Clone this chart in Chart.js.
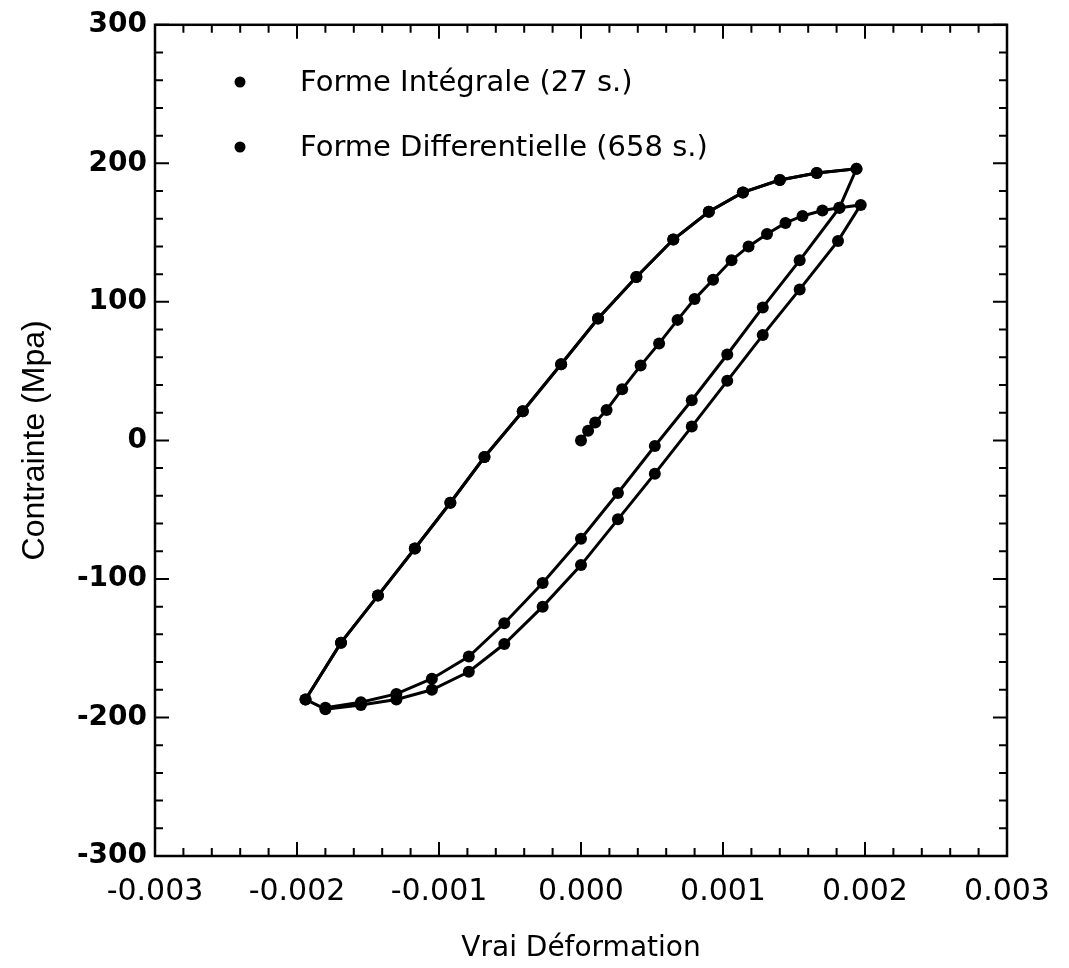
<!DOCTYPE html>
<html>
<head>
<meta charset="utf-8">
<script src="https://cdn.jsdelivr.net/npm/chart.js@4.4.1/dist/chart.umd.min.js"></script>
<style>
  body { margin: 0; background: #fff; }
</style>
</head>
<body>
<canvas id="loopChart" width="1069" height="968"></canvas>
<script>
const X_TICKS = [-0.003, -0.002, -0.001, 0, 0.001, 0.002, 0.003];
const X_TICK_LABELS = ["-0.003", "-0.002", "-0.001", "0.000", "0.001", "0.002", "0.003"];
const Y_TICKS = [-300, -200, -100, 0, 100, 200, 300];
const Y_TICK_LABELS = ["-300", "-200", "-100", "0", "100", "200", "300"];

const SERIES_LABELS = ["Forme Intégrale (27 s.)", "Forme Differentielle (658 s.)"];

// loading, first unloading (outer), then the left branch back to the top
const integraleStrain = [
  0.00000, 0.00005, 0.00010, 0.00018, 0.00029, 0.00042, 0.00055, 0.00068, 0.00080,
  0.00093, 0.00106, 0.00118, 0.00131, 0.00144, 0.00156, 0.00170, 0.00182, 0.00197,
  0.00181, 0.00154, 0.00128, 0.00103, 0.00078, 0.00052, 0.00026, 0.00000, -0.00027,
  -0.00054, -0.00079, -0.00105, -0.00130, -0.00155, -0.00180, -0.00194,
  -0.00169, -0.00143, -0.00117, -0.00092, -0.00068, -0.00041, -0.00014, 0.00012,
  0.00039, 0.00065, 0.00090, 0.00114, 0.00140, 0.00166, 0.00194
];
const integraleStress = [
  0, 7, 13, 22, 37, 54, 70, 87, 102,
  116, 130, 140, 149, 157, 162, 166, 168, 170,
  144, 109, 76, 43, 10, -24, -57, -90, -120,
  -147, -167, -180, -187, -191, -194, -187,
  -146, -112, -78, -45, -12, 21, 55, 88,
  118, 145, 165, 179, 188, 193, 196
];

// left branch, then second unloading (inner)
const differentielleStrain = [
  -0.00194, -0.00169, -0.00143, -0.00117, -0.00092, -0.00068, -0.00041, -0.00014,
  0.00012, 0.00039, 0.00065, 0.00090, 0.00114, 0.00140, 0.00166, 0.00194,
  0.00182, 0.00154, 0.00128, 0.00103, 0.00078, 0.00052, 0.00026, 0.00000,
  -0.00027, -0.00054, -0.00079, -0.00105, -0.00130, -0.00155, -0.00180
];
const differentielleStress = [
  -187, -146, -112, -78, -45, -12, 21, 55,
  88, 118, 145, 165, 179, 188, 193, 196,
  168, 130, 96, 62, 29, -4, -38, -71,
  -103, -132, -156, -172, -183, -189, -193
];

function toPoints(xs, ys) {
  return xs.map((x, i) => ({ x: x, y: ys[i] }));
}

// white background, box with inward ticks, and the legend inside the plot
const framePlugin = {
  id: "frame",
  beforeDraw(chart) {
    const ctx = chart.ctx;
    ctx.save();
    ctx.fillStyle = "#fff";
    ctx.fillRect(0, 0, chart.width, chart.height);
    ctx.restore();
  },
  afterDatasetsDraw(chart) {
    const ctx = chart.ctx;
    const area = chart.chartArea;
    const xs = chart.scales.x;
    const ys = chart.scales.y;

    ctx.save();
    ctx.strokeStyle = "#000";
    ctx.lineWidth = 2;

    function xTick(v, len) {
      const px = xs.getPixelForValue(v);
      ctx.beginPath();
      ctx.moveTo(px, area.bottom);
      ctx.lineTo(px, area.bottom - len);
      ctx.moveTo(px, area.top);
      ctx.lineTo(px, area.top + len);
      ctx.stroke();
    }
    function yTick(v, len) {
      const py = ys.getPixelForValue(v);
      ctx.beginPath();
      ctx.moveTo(area.left, py);
      ctx.lineTo(area.left + len, py);
      ctx.moveTo(area.right, py);
      ctx.lineTo(area.right - len, py);
      ctx.stroke();
    }

    for (let i = 0; i < X_TICKS.length; i++) {
      xTick(X_TICKS[i], 14);
      if (i < X_TICKS.length - 1) {
        const step = (X_TICKS[i + 1] - X_TICKS[i]) / 5;
        for (let k = 1; k < 5; k++) xTick(X_TICKS[i] + step * k, 8);
      }
    }
    for (let i = 0; i < Y_TICKS.length; i++) {
      yTick(Y_TICKS[i], 14);
      if (i < Y_TICKS.length - 1) {
        const step = (Y_TICKS[i + 1] - Y_TICKS[i]) / 5;
        for (let k = 1; k < 5; k++) yTick(Y_TICKS[i] + step * k, 8);
      }
    }

    ctx.lineWidth = 2.5;
    ctx.strokeRect(area.left, area.top, area.right - area.left, area.bottom - area.top);

    // legend
    ctx.fillStyle = "#000";
    ctx.font = "29px 'DejaVu Sans'";
    ctx.textBaseline = "alphabetic";
    const rows = [91, 156];
    chart.data.datasets.forEach((ds, i) => {
      const y = rows[i];
      ctx.beginPath();
      ctx.arc(240, y - 9, 5.5, 0, Math.PI * 2);
      ctx.fill();
      ctx.fillText(ds.label, 300, y);
    });
    ctx.restore();
  }
};

new Chart(document.getElementById("loopChart"), {
  type: "scatter",
  data: {
    datasets: [
      {
        label: SERIES_LABELS[0],
        data: toPoints(integraleStrain, integraleStress),
        showLine: true,
        borderColor: "#000",
        backgroundColor: "#000",
        borderWidth: 3,
        pointRadius: 6,
        pointBorderWidth: 0,
        tension: 0
      },
      {
        label: SERIES_LABELS[1],
        data: toPoints(differentielleStrain, differentielleStress),
        showLine: true,
        borderColor: "#000",
        backgroundColor: "#000",
        borderWidth: 3,
        pointRadius: 6,
        pointBorderWidth: 0,
        tension: 0
      }
    ]
  },
  options: {
    responsive: false,
    animation: false,
    layout: {
      padding: { top: 21, right: 62, left: 0, bottom: 0 }
    },
    plugins: {
      legend: { display: false },
      tooltip: { enabled: false }
    },
    scales: {
      x: {
        type: "linear",
        min: -0.003,
        max: 0.003,
        afterBuildTicks: s => { s.ticks = X_TICKS.map(v => ({ value: v })); },
        afterFit: s => { s.height = 112; },
        grid: { display: false, drawTicks: false },
        border: { display: false },
        ticks: {
          autoSkip: false,
          maxRotation: 0,
          padding: 18,
          color: "#000",
          font: { family: "DejaVu Sans", size: 30 },
          callback: (v, i) => X_TICK_LABELS[i]
        },
        title: {
          display: true,
          text: "Vrai Déformation",
          color: "#000",
          font: { family: "DejaVu Sans", size: 28 },
          padding: { top: 0, bottom: 2 }
        }
      },
      y: {
        type: "linear",
        min: -300,
        max: 300,
        afterBuildTicks: s => { s.ticks = Y_TICKS.map(v => ({ value: v })); },
        afterFit: s => { s.width = 155; },
        grid: { display: false, drawTicks: false },
        border: { display: false },
        ticks: {
          padding: 8,
          color: "#000",
          font: { family: "DejaVu Sans", size: 28, weight: "bold" },
          callback: (v, i) => Y_TICK_LABELS[i]
        },
        title: {
          display: true,
          text: "Contrainte (Mpa)",
          color: "#000",
          font: { family: "Liberation Sans", size: 32 },
          padding: { top: 16, bottom: 0 }
        }
      }
    }
  },
  plugins: [framePlugin]
});
</script>
</body>
</html>
